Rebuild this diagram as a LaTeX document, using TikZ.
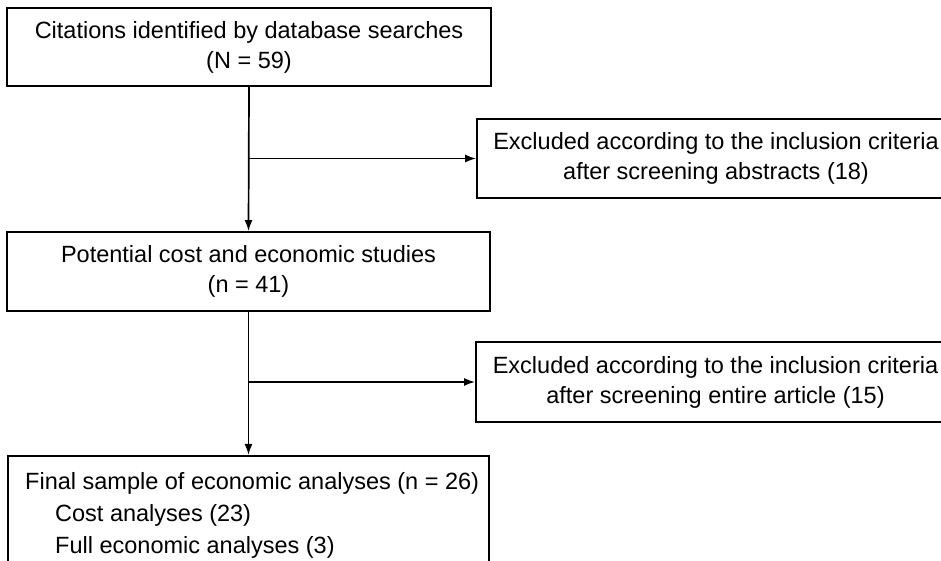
\documentclass[tikz,border=0pt]{standalone}
\usepackage{fontspec}
\setmainfont{Liberation Sans}
\usetikzlibrary{arrows.meta}
\begin{document}
\begin{tikzpicture}[x=1pt,y=1pt,
  every node/.style={font=\fontsize{23.5}{30}\selectfont},
  box/.style={draw, line width=1.8pt, rectangle, align=center, inner sep=0pt},
  conn/.style={line width=1.7pt, -{Latex[length=11pt,width=8pt]}},
  txt/.style={anchor=west, inner sep=0pt}]
\useasboundingbox (0,0) rectangle (941,561);
\clip (0,0) rectangle (941,561);
\fill[white] (0,0) rectangle (941,561);
\node[box, minimum width=484, minimum height=78] (b1) at (249,514)
  {Citations identified by database searches\\(N = 59)};
\node[box, minimum width=478, minimum height=79] (e1) at (716,402.5)
  {Excluded according to the inclusion criteria\\after screening abstracts (18)};
\node[box, minimum width=483, minimum height=79] (b2) at (248.5,289.5)
  {Potential cost and economic studies\\(n = 41)};
\node[box, minimum width=479, minimum height=80] (e2) at (715.5,179)
  {Excluded according to the inclusion criteria\\after screening entire article (15)};
\node[box, anchor=north west, minimum width=481, minimum height=130] (b3) at (7,106) {};
\node[txt] (l1) at (25,78) {Final sample of economic analyses (n = 26)};
\node[txt] (l2) at (55,46) {Cost analyses (23)};
\node[txt] (l3) at (55,14) {Full economic analyses (3)};
\draw[conn] (b1.south) -- (b2.north);
\draw[conn] (b1.south |- e1.west) -- (e1.west);
\draw[conn] (b2.south) -- (b2.south |- b3.north);
\draw[conn] (b2.south |- e2.west) -- (e2.west);
\end{tikzpicture}
\end{document}
